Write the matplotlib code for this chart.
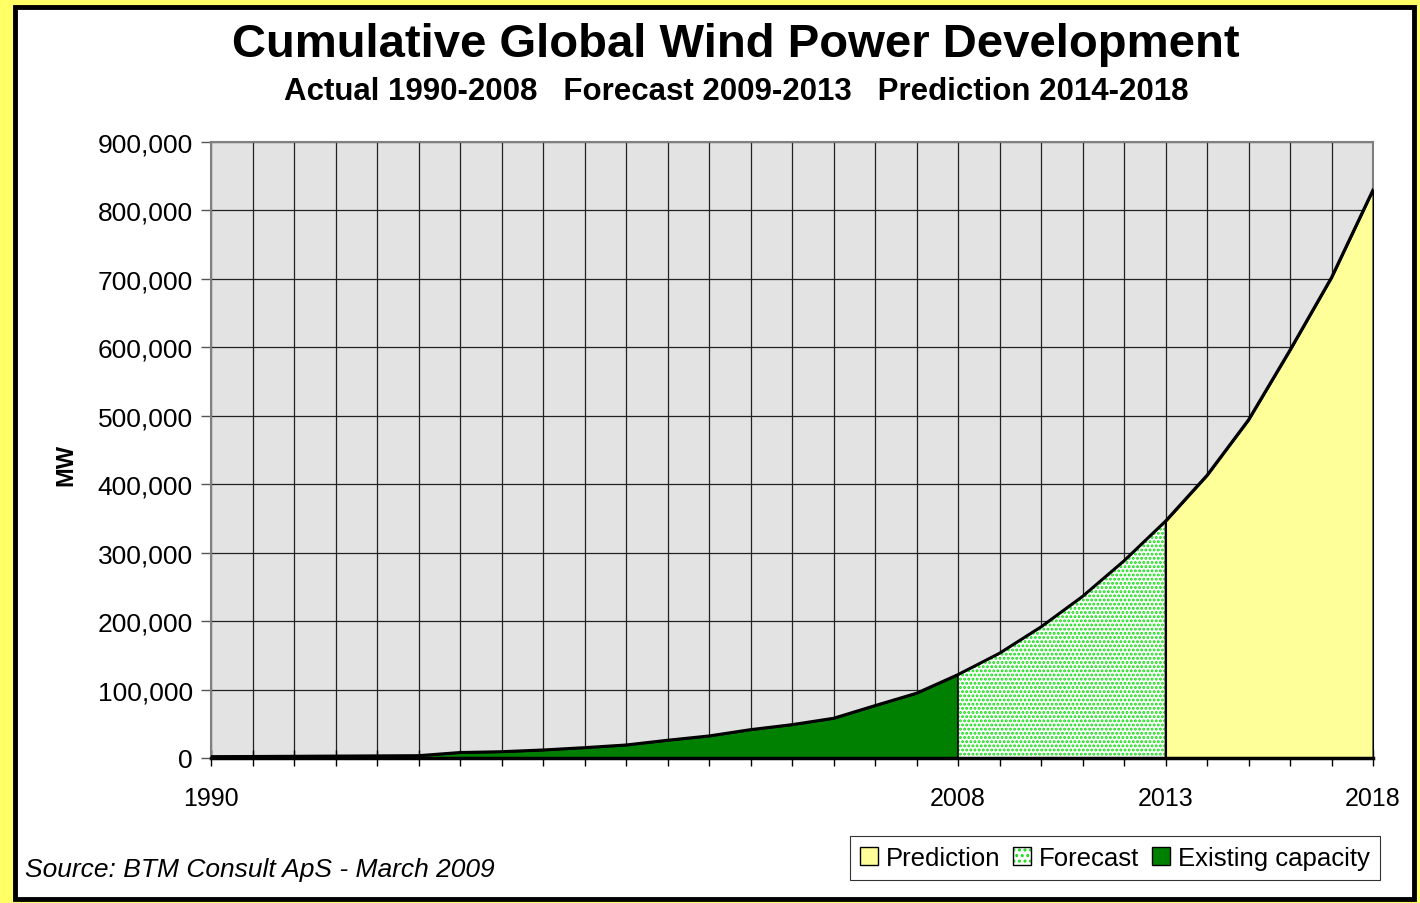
import matplotlib.pyplot as plt
from matplotlib.patches import Patch, Rectangle
from matplotlib.ticker import FuncFormatter

# ---------------- DATA ---------------- #
years = list(range(1990, 2019))
mw = [2000, 2200, 2500, 2800, 3100, 3400, 8000, 9200, 11700, 15100,
      19000, 25900, 32200, 41400, 48700, 58000, 76500, 94600, 121800,
      153000, 191500, 236000, 288000, 346000,
      413000, 494000, 596000, 702000, 830000]
actual_end = 2008
forecast_end = 2013
labelled_years = [1990, 2008, 2013, 2018]

# ---------------- THEME ---------------- #
BORDER_YELLOW = "#ffff66"
PLOT_GREY = "#e3e3e3"
GREEN = "#008000"
DOT_GREEN = "#11dd11"
PRED_YELLOW = "#ffff99"
FONT = "Liberation Sans"

plt.rcParams['font.family'] = [FONT, 'DejaVu Sans']
plt.rcParams['hatch.linewidth'] = 1.4

fig = plt.figure(figsize=(14.2, 9.04), dpi=100, facecolor=BORDER_YELLOW)
W, H = 1420, 904

# white card with black frame
card = Rectangle((14.5 / W, 4 / H), (1414 - 14.5) / W, (896.5 - 4) / H,
                 transform=fig.transFigure, facecolor="white",
                 edgecolor="black", linewidth=3.5, zorder=-10)
fig.patches.append(card)

ax = fig.add_axes([211 / W, 1 - 759 / H, (1373 - 211) / W, (759 - 143) / H])
ax.set_zorder(1)
ax.set_facecolor(PLOT_GREY)

i_a = years.index(actual_end)
i_f = years.index(forecast_end)

ax.fill_between(years[:i_a + 1], mw[:i_a + 1], 0, facecolor=GREEN,
                edgecolor="black", linewidth=1.2, zorder=3)
ax.fill_between(years[i_a:i_f + 1], mw[i_a:i_f + 1], 0, facecolor="white",
                edgecolor=DOT_GREEN, hatch="....", linewidth=0, zorder=3)
ax.fill_between(years[i_a:i_f + 1], mw[i_a:i_f + 1], 0, facecolor="none",
                edgecolor="black", linewidth=1.2, zorder=3)
ax.fill_between(years[i_f:], mw[i_f:], 0, facecolor=PRED_YELLOW,
                edgecolor="black", linewidth=1.5, zorder=3)
ax.plot(years, mw, color="black", linewidth=2.2, zorder=4, solid_joinstyle="round")

ax.set_xlim(years[0], years[-1])
ax.set_ylim(0, 900000)
ax.set_yticks(range(0, 900001, 100000))
ax.yaxis.set_major_formatter(FuncFormatter(lambda v, p: f"{int(v):,}"))
ax.set_xticks(years)
ax.set_xticklabels([str(y) if y in labelled_years else "" for y in years])

ax.grid(True, color="#222222", linewidth=0.9, zorder=1)
ax.set_axisbelow(True)

for s in ["top", "right", "left"]:
    ax.spines[s].set_color("#808080")
    ax.spines[s].set_linewidth(1.5)
ax.spines["bottom"].set_color("black")
ax.spines["bottom"].set_linewidth(2.5)
ax.spines["bottom"].set_zorder(5)

ax.tick_params(axis="y", direction="out", length=7, width=1, color="#555555",
               labelsize=19, pad=6)
ax.tick_params(axis="x", direction="inout", length=12, width=1, color="black",
               labelsize=18, pad=14)

fig.text(66 / W, 1 - 465 / H, "MW", rotation=90, ha="center", va="center",
         fontsize=17, fontweight="bold")

fig.text(736 / W, 1 - 45 / H, "Cumulative Global Wind Power Development",
         ha="center", va="center", fontsize=34, fontweight="bold")
fig.text(736 / W, 1 - 92 / H,
         "Actual 1990-2008   Forecast 2009-2013   Prediction 2014-2018",
         ha="center", va="center", fontsize=22.5, fontweight="bold")
fig.text(25 / W, 1 - 870 / H, "Source: BTM Consult ApS - March 2009",
         ha="left", va="center", fontsize=19, style="italic")

forecast_handle = (Patch(facecolor="white", edgecolor=DOT_GREEN, hatch="...", linewidth=0),
                   Patch(facecolor="none", edgecolor="black"))
handles = [
    Patch(facecolor=PRED_YELLOW, edgecolor="black"),
    forecast_handle,
    Patch(facecolor=GREEN, edgecolor="black"),
]
labels = ["Prediction", "Forecast", "Existing capacity"]
leg = fig.legend(handles, labels, loc="center", ncol=3,
                 bbox_to_anchor=(1115 / W, 1 - 859 / H),
                 fontsize=18.5, frameon=True, fancybox=False,
                 handlelength=0.7, handleheight=0.7, handletextpad=0.3,
                 columnspacing=0.5, borderpad=0.4, borderaxespad=0)
leg.get_frame().set_edgecolor("black")
leg.get_frame().set_linewidth(0.8)

fig.savefig("out.png", dpi=100, facecolor=BORDER_YELLOW)
